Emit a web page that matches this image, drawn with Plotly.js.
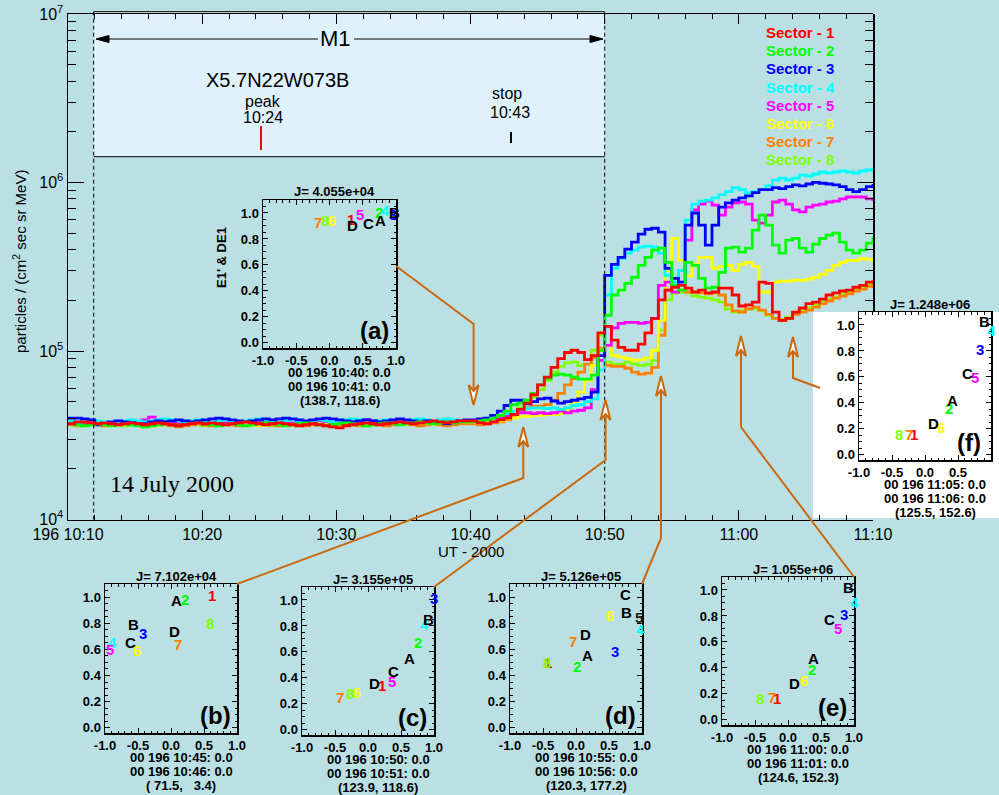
<!DOCTYPE html>
<html><head><meta charset="utf-8">
<script src="https://cdn.plot.ly/plotly-3.0.1.min.js"></script>
<style>html,body{margin:0;padding:0;background:#bae0e4;}#chart{width:999px;height:795px;}</style>
</head><body><div id="chart"></div>
<script>
const W = 999, H = 795;
const BG = '#bae0e4';
const FONT = 'Liberation Sans, Arial, Helvetica, sans-serif';
const BROWN = '#c8690f';

// ---- main chart data (flux in units of 1000 particles/(cm2 sec sr MeV)), 30 s steps from 10:10 ----
const tStartMin = 10;   // minutes after 10:00
const tStepMin = 0.5;
const sectorNames = ['Sector - 1','Sector - 2','Sector - 3','Sector - 4','Sector - 5','Sector - 6','Sector - 7','Sector - 8'];
const sectorColors = ['#ff0000','#00ff00','#0000ff','#00ffff','#ff00ff','#ffff00','#ff8000','#80ff00'];

const sector1 = [37,38,38,37.5,37,37.5,37,36.5,37,37.5, 37,36.5,37,37.5,37,36.5,36,36.5,37,37.5, 37,37.5,37,36.5,37,37.5,38,37.5,37,36.5, 37,37.5,37,36.5,36,36.5,37,36.5,36,35.5, 35,36,36.5,37,37.5,37,36.5,37,37.5,38, 37.5,37,37.5,38,38.5,38,37.5,38,38.5,38.5,
 38.5,37.5,37,38,39,40,42,45,49,55, 63,70,80,90,98,101,98,89,94,128, 140,116,105,101,101,110,128,156,201,230, 239,245,236,224,230,221,224,236,236,215, 185,188,195,256,252,170,152,156,170,180, 191,195,203,215,221,227,230,239,245,256, 263];
const sector2 = [37,36.5,36,36.5,37,36.5,36,36.5,37,36.5, 36,35.5,36,36.5,37,36.5,36,36.5,37,37.5, 37,36.5,36,36.5,37,36.5,36,36.5,37,37.5, 37,36.5,36,36.5,37,37.5,37,36.5,36,36.5, 37,37.5,37,36.5,36,36.5,37,37.5,37,36.5, 37,37.5,38,37.5,37,37.5,38,37.5,38,38,
 38,38.5,39,40,41.5,44,48,49,51,56, 63,68.5,72,73,72,70,68,68,72,101, 163,215,230,252,274,322,359,397,408,336, 245,230,336,322,270,236,239,293,408,413, 386,408,521,640,558,425,381,455,466,408, 386,431,466,487,500,443,397,381,397,437, 473];
const sector3 = [40,40,39.5,39,36.5,37,38,38.5,38,37.5, 36.5,37,38,38.5,38,38.5,39,38.5,38,38.5, 39,39.5,40,39.5,39,38.5,38,38.5,39,39.5, 39,39.5,40,39.5,39,38.5,39,39.5,40,39.5, 39,38.5,38,38.5,39,38.5,38,38.5,39,39.5, 39,38.5,38,38.5,38,37.5,37,37.5,38.5,39,
 39,39.5,40,41.5,44,47.5,51,51,48.5,50, 52,52.5,50.5,49,50,51,52,53,57,94, 281,327,359,402,443,494,528,535,507,309, 270,256,558,659,558,425,558,714,756,787, 810,832,870,906,906,932,920,945,967,955, 980,1003,990,980,967,945,906,882,906,945, 980];
const sector4 = [38.5,38,38.5,39,38.5,38,37.5,38,38.5,39, 38.5,38,38.5,39,39.5,39,38.5,38,38.5,39, 38.5,38,38.5,39,38.5,38,38.5,39,39.5,39, 38.5,38,38.5,39,38.5,38,38.5,39,38.5,38, 38.5,39,39.5,39,38.5,38,38.5,39,38.5,38, 38.5,39,39.5,39,38.5,39,39.5,39,38.5,38.5,
 38.5,39,39.5,40,41.5,42.5,44,45,45.5,46, 46,45.5,46,45,46,47.5,48,50,52,77, 215,309,354,381,397,413,419,413,381,281, 256,301,598,745,776,787,810,844,882,932, 906,870,882,906,955,1035,1063,1035,1063,1108, 1093,1123,1154,1139,1154,1170,1154,1139,1170,1186, 1219];
const sector5 = [38,37.5,37,37.5,38,37.5,37,37.5,38,38.5, 38,39,40.5,39,38,37.5,37,37.5,38,37.5, 37,37.5,38,37.5,37,37.5,38,38.5,38,37.5, 37,37.5,38,37.5,37,37.5,38,38.5,38,37.5, 37,37.5,38,38.5,39,38.5,38,37.5,38,38.5, 38,37.5,38,38.5,38,38.5,39,38.5,38,38.5,
 38.5,38.5,39,39.5,40,41,42,43,43,42.5, 43,42.5,43,44,43,44,44.5,46,59,88, 108,137,146,148,148,146,148,156,245,256, 224,301,455,687,745,776,735,640,714,756, 766,745,598,574,640,766,787,745,687,670, 714,735,745,766,776,799,820,820,820,799, 776];
const sector6 = [37,36.5,37,37.5,37,36.5,36,36.5,37,37.5, 37,36.5,36,36.5,37,37.5,37,36.5,37,37.5, 38,37.5,37,36.5,37,37.5,37,36.5,36,36.5, 37,37.5,37,36.5,37,37.5,38,37.5,37,36.5, 37,37.5,37,36.5,37,37.5,37,37.5,38,37.5, 37,37.5,38,37.5,37,37.5,37,37.5,38,38,
 38,37.5,37.5,38,38.5,39.5,40,41,41,41.5, 41.5,42,42,42.5,45,50,57,67,82,101, 108,94,92,90,88,89,91,101,152,301, 466,345,278,327,359,359,309,318,322,301, 327,336,318,224,224,256,260,260,263,263, 267,274,285,301,322,336,345,345,354,350, 336];
const sector7 = [36.5,36,36.5,37,36.5,36,36.5,37,37.5,37, 36.5,36,36.5,37,36.5,36,35.5,36,36.5,37, 36.5,36,36.5,37,36.5,36,36.5,37,37.5,37, 36.5,36,36.5,37,36.5,36,36.5,37,36.5,36, 36.5,37,36.5,36,36.5,37,36.5,36,36.5,37, 37,36.5,36,36.5,37,36.5,36,36.5,37,37,
 37,36.4,37,37.5,38,39,41.5,45,46,47, 47,48,51,56,63,68.5,75,83.5,91,104, 82,81,81,79,75,73,74,80,124,230, 270,230,224,224,221,218,221,215,188,173, 170,178,182,175,165,156,152,156,165,170, 175,182,191,198,206,212,218,227,233,242, 252];
const sector8 = [37,36.5,36,36.5,37,37.5,37,36.5,36,36.5, 37,36.5,36,36.5,37,36.5,36,36.5,37,36.5, 36,36.5,37,37.5,37,36.5,36,36.5,37,36.5, 36,36.5,37,36.5,36,36.5,37,37.5,37,36.5, 36,36.5,37,36.5,36,36.5,37,37.5,37,37.5, 37,37.5,38,37.5,37,37.5,38,37.5,38,38,
 38,38,38.5,39,40,42,44,46,49,53, 59,67,75,81,85,86,82,83.5,101,124, 86,83.5,83.5,86,83.5,82,83.5,88,133,201, 221,224,221,212,209,206,201,195,177,170, 173,177,180,173,163,156,154,159,168,173, 180,188,195,203,209,218,224,233,239,248, 260];
const sectors = [sector1,sector2,sector3,sector4,sector5,sector6,sector7,sector8];

const xTickVals = [10,20,30,40,50,60,70];
const xTickText = ['196 10:10','10:20','10:30','10:40','10:50','11:00','11:10'];
const yTickVals = [1e4,1e5,1e6,1e7];
const yTickText = ['10<sup>4</sup>','10<sup>5</sup>','10<sup>6</sup>','10<sup>7</sup>'];

// ---- inset (E1' & DE1) data: order 1..8, A, B, C, D ----
const insetLabels = ['1','2','3','4','5','6','7','8','A','B','C','D'];
const insetA_x = [0.33,0.75,0.95,0.84,0.46,0.03,-0.18,-0.07,0.77,0.98,0.58,0.35];
const insetA_y = [0.95,1.00,0.99,1.02,0.99,0.94,0.93,0.94,0.94,1.00,0.92,0.905];
const insetB_x = [0.62,0.215,-0.43,-0.89,-0.93,-0.51,0.10,0.595,0.09,-0.57,-0.62,0.05];
const insetB_y = [1.01,0.98,0.72,0.65,0.60,0.59,0.64,0.80,0.975,0.79,0.655,0.735];
const insetC_x = [0.215,0.75,1.0,0.85,0.37,-0.16,-0.43,-0.28,0.625,0.91,0.38,0.10];
const insetC_y = [0.34,0.67,1.01,0.81,0.37,0.29,0.25,0.28,0.55,0.85,0.45,0.36];
const insetD_x = [-0.42,0.01,0.585,0.975,0.95,0.52,-0.05,-0.44,0.175,0.77,0.75,0.14];
const insetD_y = [0.50,0.47,0.58,0.75,0.845,0.857,0.66,0.50,0.555,0.88,1.02,0.71];
const insetE_x = [-0.165,0.37,0.85,1.0,0.76,0.24,-0.25,-0.42,0.39,0.91,0.635,0.10];
const insetE_y = [0.165,0.39,0.81,0.90,0.70,0.30,0.17,0.165,0.47,1.02,0.77,0.28];
const insetF_x = [-0.16,0.37,0.84,1.0,0.76,0.24,-0.24,-0.40,0.41,0.90,0.65,0.13];
const insetF_y = [0.157,0.36,0.815,0.96,0.595,0.21,0.157,0.157,0.42,1.025,0.63,0.24];
const insetTitles = ['J= 4.055e+04','J= 7.102e+04','J= 3.155e+05','J= 5.126e+05','J= 1.055e+06','J= 1.248e+06'];
const insetLine1 = ['00 196 10:40: 0.0','00 196 10:45: 0.0','00 196 10:50: 0.0','00 196 10:55: 0.0','00 196 11:00: 0.0','00 196 11:05: 0.0'];
const insetLine2 = ['00 196 10:41: 0.0','00 196 10:46: 0.0','00 196 10:51: 0.0','00 196 10:56: 0.0','00 196 11:01: 0.0','00 196 11:06: 0.0'];
const insetLine3 = ['(138.7, 118.6)','(\u00a071.5,\u00a0\u00a0\u00a03.4)','(123.9, 118.6)','(120.3, 177.2)','(124.6, 152.3)','(125.5, 152.6)'];
const insetTags = ['(a)','(b)','(c)','(d)','(e)','(f)'];

// ---- layout geometry (pixels) ----
const PX = x => x / W;
const PY = y => 1 - y / H;
const plotBox = {L:68, R:873, T:14, B:519.5};
const insetBoxes = [
  {L:263, R:396, T:200, B:348},
  {L:105, R:237, T:584, B:733},
  {L:302, R:434, T:587, B:735},
  {L:510, R:642, T:584, B:733},
  {L:722, R:854, T:577, B:725},
  {L:859, R:991, T:312, B:460}
];
const insetXs = [insetA_x,insetB_x,insetC_x,insetD_x,insetE_x,insetF_x];
const insetYs = [insetA_y,insetB_y,insetC_y,insetD_y,insetE_y,insetF_y];

const times = sector1.map((_, i) => tStartMin + i * tStepMin);

const traces = [];
for (let k = 7; k >= 0; k--) {
  traces.push({
    type:'scatter', mode:'lines', x:times, y:sectors[k].map(v => v * 1000),
    line:{color:sectorColors[k], width:2.8, shape:'hv'},
    xaxis:'x', yaxis:'y', showlegend:false, hoverinfo:'skip', name:sectorNames[k]
  });
}
// invisible trace to activate the right-hand spine axis
traces.push({type:'scatter', mode:'lines', x:[null], y:[null], xaxis:'x', yaxis:'y8', showlegend:false, hoverinfo:'skip'});
// invisible traces to activate the inset axes
insetBoxes.forEach((b, j) => {
  traces.push({type:'scatter', mode:'markers', x:[null], y:[null], xaxis:'x' + (j + 2), yaxis:'y' + (j + 2), showlegend:false, hoverinfo:'skip'});
});

const layout = {
  width:W, height:H, margin:{l:0,r:0,t:0,b:0,pad:0},
  paper_bgcolor:BG, plot_bgcolor:'rgba(0,0,0,0)',
  showlegend:false,
  font:{family:FONT, color:'#000'},
  xaxis:{
    domain:[PX(plotBox.L), PX(plotBox.R)], range:[10,70], anchor:'y',
    tickmode:'array', tickvals:xTickVals, ticktext:xTickText,
    ticks:'inside', ticklen:10, tickwidth:1, tickcolor:'#000',
    minor:{tickmode:'linear', tick0:10, dtick:2, ticks:'inside', ticklen:5, tickwidth:1, tickcolor:'#000', showgrid:false},
    showline:true, linecolor:'#000', linewidth:1.5, mirror:'ticks',
    showgrid:false, zeroline:false, automargin:false,
    tickfont:{family:FONT, size:16, color:'#000'}
  },
  yaxis:{
    domain:[PY(plotBox.B), PY(plotBox.T)], type:'log', range:[4,7], anchor:'x',
    tickmode:'array', tickvals:yTickVals, ticktext:yTickText,
    ticks:'inside', ticklen:16, tickwidth:1, tickcolor:'#000',
    minor:{tickmode:'array', tickvals:[2e4,3e4,4e4,5e4,6e4,7e4,8e4,9e4,2e5,3e5,4e5,5e5,6e5,7e5,8e5,9e5,2e6,3e6,4e6,5e6,6e6,7e6,8e6,9e6], ticks:'inside', ticklen:8, tickwidth:1, tickcolor:'#000', showgrid:false},
    showline:true, linecolor:'#000', linewidth:1.5, mirror:false,
    showgrid:false, zeroline:false, automargin:false,
    tickfont:{family:FONT, size:16, color:'#000'}
  },
  yaxis8:{
    domain:[PY(312), PY(plotBox.T)], type:'log', range:[7 - (312 - plotBox.T) / ((plotBox.B - plotBox.T) / 3), 7],
    anchor:'free', position:PX(plotBox.R), side:'right', overlaying:false,
    tickmode:'array', tickvals:yTickVals, showticklabels:false,
    ticks:'inside', ticklen:16, tickwidth:1, tickcolor:'#000',
    minor:{tickmode:'array', tickvals:[2e5,3e5,4e5,5e5,6e5,7e5,8e5,9e5,2e6,3e6,4e6,5e6,6e6,7e6,8e6,9e6], ticks:'inside', ticklen:8, tickwidth:1, tickcolor:'#000', showgrid:false},
    showline:true, linecolor:'#000', linewidth:1.5, showgrid:false, zeroline:false
  },
  shapes:[], annotations:[]
};

const xMinor = [], yMinor = [];
for (let i = -10; i <= 10; i++) xMinor.push(i / 10);
for (let i = 0; i <= 22; i++) yMinor.push(i * 0.05);
const insetColors = sectorColors.concat(['#000000','#000000','#000000','#000000']);
insetBoxes.forEach((b, j) => {
  const n = j + 2;
  layout['xaxis' + n] = {
    domain:[PX(b.L), PX(b.R)], range:[-1,1], anchor:'y' + n,
    tickmode:'array', tickvals:[-1,-0.5,0,0.5,1], ticktext:['-1.0','-0.5','0.0','0.5','1.0'],
    ticks:'inside', ticklen:5, tickwidth:1, tickcolor:'#000',
    minor:{tickmode:'array', tickvals:xMinor, ticks:'inside', ticklen:2.5, tickwidth:1, tickcolor:'#000', showgrid:false},
    showline:true, linecolor:'#000', linewidth:1.5, mirror:'ticks',
    showgrid:false, zeroline:false, automargin:false,
    tickfont:{family:FONT, size:13, color:'#000', weight:'bold'}
  };
  layout['yaxis' + n] = {
    domain:[PY(b.B), PY(b.T)], range:[-0.04,1.1], anchor:'x' + n,
    tickmode:'array', tickvals:[0,0.2,0.4,0.6,0.8,1.0], ticktext:['0.0','0.2','0.4','0.6','0.8','1.0'],
    ticks:'inside', ticklen:5, tickwidth:1, tickcolor:'#000',
    minor:{tickmode:'array', tickvals:yMinor, ticks:'inside', ticklen:2.5, tickwidth:1, tickcolor:'#000', showgrid:false},
    showline:true, linecolor:'#000', linewidth:1.5, mirror:'ticks',
    showgrid:false, zeroline:false, automargin:false,
    tickfont:{family:FONT, size:13, color:'#000', weight:'bold'}
  };
  // sector / detector labels placed through the inset's own axes
  insetLabels.forEach((lab, i) => {
    let col = insetColors[i];
    if (j === 3 && i === 4) col = '#202020';
    layout.annotations.push({xref:'x' + n, yref:'y' + n, x:insetXs[j][i], y:insetYs[j][i], text:lab, showarrow:false,
      xanchor:'center', yanchor:'middle', font:{family:FONT, size:15, color:col, weight:'bold'}});
  });
  const cx = (b.L + b.R) / 2;
  const ann = (x, y, text, size) => ({xref:'paper', yref:'paper', x:PX(x), y:PY(y), text:text, showarrow:false, xanchor:'center', yanchor:'middle', font:{family:FONT, size:size, color:'#000', weight:'bold'}});
  layout.annotations.push(ann(cx + 5, b.T - 8, insetTitles[j], 13));
  layout.annotations.push(ann(cx + 10, b.B + 24, insetLine1[j], 13));
  layout.annotations.push(ann(cx + 10, b.B + 38.5, insetLine2[j], 13));
  layout.annotations.push(ann(cx + 10, b.B + 52.5, insetLine3[j], 13));
  layout.annotations.push(ann(b.R - 22, b.B - 18, insetTags[j], 24));
});

// inset (a) axis title
layout.annotations.push({xref:'paper', yref:'paper', x:PX(222), y:PY(258), text:"E1' & DE1", textangle:-90, showarrow:false, xanchor:'center', yanchor:'middle', font:{family:FONT, size:13, color:'#000', weight:'bold'}});

// legend
sectorNames.forEach((s, k) => {
  layout.annotations.push({xref:'paper', yref:'paper', x:PX(764), y:PY(32.3 + k * 18.24), text:s, showarrow:false, xanchor:'left', yanchor:'middle', font:{family:FONT, size:15, color:sectorColors[k], weight:'bold'}});
});

// text in the M1 box and other labels
const plainAnn = (x, y, text, size, extra) => Object.assign({xref:'paper', yref:'paper', x:PX(x), y:PY(y), text:text, showarrow:false, xanchor:'center', yanchor:'middle', font:{family:FONT, size:size, color:'#000'}}, extra || {});
layout.annotations.push(plainAnn(335, 39, 'M1', 22));
layout.annotations.push(plainAnn(277, 80, 'X5.7N22W073B', 20));
layout.annotations.push(plainAnn(263, 102, 'peak', 16));
layout.annotations.push(plainAnn(263, 118, '10:24', 16));
layout.annotations.push(plainAnn(507, 94, 'stop', 16));
layout.annotations.push(plainAnn(510, 113, '10:43', 16));
layout.annotations.push(plainAnn(108, 484, '14 July 2000', 24, {xanchor:'left', font:{family:'Liberation Serif, Times New Roman, serif', size:24, color:'#000'}}));
layout.annotations.push(plainAnn(470.5, 551, 'UT - 2000', 15));
layout.annotations.push(plainAnn(20, 262, 'particles / (cm<sup>2</sup> sec sr MeV)', 15, {textangle:-90}));

// shapes
const S = layout.shapes;
const pth = pts => pts.map((p, i) => (i ? 'L' : 'M') + PX(p[0]).toFixed(5) + ',' + PY(p[1]).toFixed(5)).join(' ');
// M1 box
S.push({type:'rect', xref:'paper', yref:'paper', x0:PX(93.7), x1:PX(604.7), y0:PY(156.7), y1:PY(11.7), fillcolor:'#dff1fb', line:{width:0}, layer:'below'});
S.push({type:'line', xref:'paper', yref:'paper', x0:PX(93.7), x1:PX(604.7), y0:PY(11.7), y1:PY(11.7), line:{color:'#000', width:1}});
S.push({type:'line', xref:'paper', yref:'paper', x0:PX(93.7), x1:PX(604.7), y0:PY(156.7), y1:PY(156.7), line:{color:'#000', width:1}});
[93.7, 604.7].forEach(x => S.push({type:'line', xref:'paper', yref:'paper', x0:PX(x), x1:PX(x), y0:PY(11.7), y1:PY(plotBox.B), line:{color:'#000', width:1, dash:'4px,3px'}}));
// M1 arrow
S.push({type:'line', xref:'paper', yref:'paper', x0:PX(100), x1:PX(318), y0:PY(39), y1:PY(39), line:{color:'#000', width:1}});
S.push({type:'line', xref:'paper', yref:'paper', x0:PX(354), x1:PX(598), y0:PY(39), y1:PY(39), line:{color:'#000', width:1}});
S.push({type:'path', xref:'paper', yref:'paper', path:pth([[96,39],[109,35.5],[109,42.5]]) + ' Z', fillcolor:'#000', line:{color:'#000', width:1}});
S.push({type:'path', xref:'paper', yref:'paper', path:pth([[603,39],[590,35.5],[590,42.5]]) + ' Z', fillcolor:'#000', line:{color:'#000', width:1}});
// peak / stop ticks
S.push({type:'line', xref:'paper', yref:'paper', x0:PX(261), x1:PX(261), y0:PY(126), y1:PY(150), line:{color:'#ff0000', width:2}});
S.push({type:'line', xref:'paper', yref:'paper', x0:PX(511), x1:PX(511), y0:PY(132), y1:PY(143), line:{color:'#000', width:2}});
// white background for inset (f)
S.push({type:'rect', xref:'paper', yref:'paper', x0:PX(813), x1:PX(999), y0:PY(518), y1:PY(312), fillcolor:'#ffffff', line:{width:0}, layer:'below'});
// connectors
const connectors = [
  {pts:[[396,266],[473.6,324],[473.6,404]], tip:[473.6,405], dir:-1},
  {pts:[[237,584],[523.3,478],[523.3,428]], tip:[523.3,427], dir:1},
  {pts:[[434,587],[605.5,460],[605.5,401]], tip:[605.5,400], dir:1},
  {pts:[[642,584],[661,538],[661,377]], tip:[661,376], dir:1},
  {pts:[[854,577],[741,427],[741,337]], tip:[741,336], dir:1},
  {pts:[[820,388],[793,378],[793,338]], tip:[793,337], dir:1}
];
connectors.forEach(c => {
  S.push({type:'path', xref:'paper', yref:'paper', path:pth(c.pts), line:{color:BROWN, width:2}});
  const [tx, ty] = c.tip, d = c.dir;
  S.push({type:'path', xref:'paper', yref:'paper', path:pth([[tx,ty],[tx-5,ty+20*d],[tx,ty+14*d],[tx+5,ty+20*d]]) + ' Z', fillcolor:'#ffffff', line:{color:BROWN, width:2}});
});

Plotly.newPlot('chart', traces, layout, {displayModeBar:false, staticPlot:true});
</script>
</body></html>
